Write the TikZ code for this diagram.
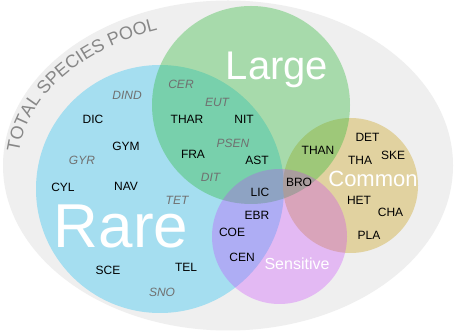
\documentclass[tikz,border=0pt]{standalone}
\usepackage{fontspec}
\setmainfont{Liberation Sans}
\usetikzlibrary{decorations.text}
\definecolor{poolgray}{RGB}{239,239,239}
\definecolor{poolText}{RGB}{135,135,135}
\definecolor{rareblue}{RGB}{165,222,240}
\definecolor{commontan}{RGB}{225,210,160}
\definecolor{largegreen}{RGB}{44,184,55}
\definecolor{sensviolet}{RGB}{200,49,255}
\definecolor{itgray}{RGB}{112,112,112}
\tikzset{
  sp/.style={inner sep=0pt, font=\fontsize{12pt}{12pt}\selectfont, text=black},
  spi/.style={inner sep=0pt, font=\fontsize{12pt}{12pt}\selectfont\itshape, text=itgray},
  big/.style={inner sep=0pt, anchor=base, text=white},
}
\begin{document}
\begin{tikzpicture}[x=1pt,y=1pt]
\useasboundingbox (0,0) rectangle (454,331);
\fill[white] (0,0) rectangle (454,331);
% total pool
\fill[poolgray] (228,165.5) ellipse[x radius=225pt, y radius=165pt];
\path[decorate, decoration={text along path, text color=poolText,
  text={|\fontsize{18pt}{18pt}\selectfont|TOTAL SPECIES POOL}}]
  (18.9,178.6) arc[start angle=174.6, end angle=95, x radius=210pt, y radius=144pt];
% circles
\fill[rareblue] (160,142) circle[radius=124pt];
\fill[commontan] (350.5,145.5) circle[radius=67.5pt];
\fill[largegreen, fill opacity=0.365] (251,226) circle[radius=99pt];
\fill[sensviolet, fill opacity=0.284] (279.5,94.5) circle[radius=67.5pt];
% big labels
\node[big, font=\fontsize{40pt}{40pt}\selectfont] (large) at (277,251) {Large};
\node[big, font=\fontsize{62pt}{62pt}\selectfont] (rare) at (121,83) {Rare};
\node[big, font=\fontsize{22pt}{22pt}\selectfont] (common) at (373,144) {Common};
\node[big, font=\fontsize{16pt}{16pt}\selectfont] (sensitive) at (297,61) {Sensitive};
% species
\node[spi] (cer) at (181,247) {CER};
\node[spi] (dind) at (127,236) {DIND};
\node[spi] (eut) at (217,229) {EUT};
\node[sp] (dic) at (93,212) {DIC};
\node[sp] (thar) at (187,212) {THAR};
\node[sp] (nit) at (244,212) {NIT};
\node[sp] (gym) at (126,185) {GYM};
\node[spi] (psen) at (233,188) {PSEN};
\node[sp] (fra) at (193,177) {FRA};
\node[sp] (ast) at (257,170.5) {AST};
\node[spi] (gyr) at (82,171) {GYR};
\node[sp] (than) at (318,181) {THAN};
\node[sp] (det) at (367.5,194) {DET};
\node[sp] (tha) at (360,171) {THA};
\node[sp] (ske) at (393,176) {SKE};
\node[sp] (cyl) at (63,144) {CYL};
\node[sp] (nav) at (126,145) {NAV};
\node[spi] (dit) at (210.5,154) {DIT};
\node[sp] (bro) at (299,149) {BRO};
\node[sp] (lic) at (260,139) {LIC};
\node[spi] (tet) at (177,131) {TET};
\node[sp] (het) at (359,131) {HET};
\node[sp] (cha) at (390.5,118.5) {CHA};
\node[sp] (ebr) at (257,116) {EBR};
\node[sp] (coe) at (232,99) {COE};
\node[sp] (pla) at (369,95.5) {PLA};
\node[sp] (cen) at (242,74) {CEN};
\node[sp] (sce) at (108,61) {SCE};
\node[sp] (tel) at (186,64) {TEL};
\node[spi] (sno) at (162,39) {SNO};
\end{tikzpicture}
\end{document}
